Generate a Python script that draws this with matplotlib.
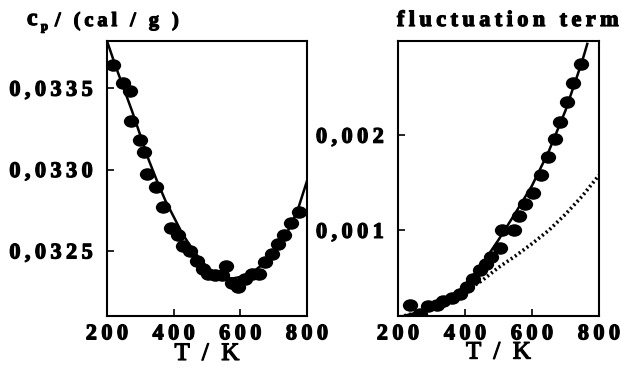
import matplotlib
matplotlib.use('Agg')
import matplotlib.pyplot as plt
import matplotlib.patheffects as pe
from matplotlib.path import Path

plt.rcParams['font.family'] = ['Liberation Serif', 'DejaVu Serif']
plt.rcParams['font.weight'] = 'bold'

# left panel: heat capacity
cp_T = [219, 247, 269, 272, 299, 311, 321, 347, 369, 391, 414, 429, 449, 469, 489,
        504, 524, 545, 557, 575, 592, 614, 635, 657, 673, 694, 712, 730, 752, 777]
cp_val = [0.03364, 0.03353, 0.03348, 0.03330, 0.03318, 0.03311, 0.03297, 0.03289,
          0.03277, 0.03264, 0.03260, 0.03253, 0.03250, 0.03244, 0.03239, 0.03236,
          0.03235, 0.03235, 0.03241, 0.03230, 0.03228, 0.03233, 0.03236, 0.03236,
          0.03243, 0.03248, 0.03254, 0.03260, 0.03267, 0.03274]
cp_fit_T = [200, 225, 250, 275, 300, 325, 350, 375, 400, 425, 450, 475, 500,
            525, 550, 575, 600, 625, 650, 675, 700, 725, 750, 775, 800]
cp_fit = [0.03379, 0.03364, 0.03350, 0.03336, 0.03321, 0.03306, 0.03293, 0.03281,
          0.03271, 0.03261, 0.03253, 0.03246, 0.03240, 0.03236, 0.03234, 0.03233,
          0.03234, 0.03236, 0.03239, 0.03243, 0.03249, 0.03256, 0.03265, 0.03277,
          0.03293]

# right panel: fluctuation term
fl_T = [235, 265, 290, 315, 335, 360, 385, 405, 425, 445, 463, 477, 503, 510, 545,
        560, 580, 602, 627, 647, 668, 683, 705, 723, 747]
fl_val = [0.00022, 0.00012, 0.00021, 0.00022, 0.00026, 0.00029, 0.00033, 0.00040,
          0.00049, 0.00058, 0.00065, 0.00072, 0.00081, 0.00100, 0.00100, 0.00115,
          0.00128, 0.00139, 0.00158, 0.00177, 0.00196, 0.00214, 0.00235, 0.00255,
          0.00275]
fl_fit_T = [205, 250, 300, 350, 400, 450, 500, 550, 600, 650, 700, 750, 765]
fl_fit = [0.00009, 0.00013, 0.00018, 0.00027, 0.00042, 0.00064, 0.00090, 0.00118,
          0.00147, 0.00183, 0.00226, 0.00278, 0.00296]
fl_dot_T = [205, 250, 300, 350, 400, 450, 500, 550, 600, 650, 700, 750, 800]
fl_dot = [0.00009, 0.00013, 0.00018, 0.00026, 0.00036, 0.00047, 0.00061, 0.00073,
          0.00086, 0.00100, 0.00117, 0.00136, 0.00158]

x_ticks = [200, 400, 600, 800]
cp_ticks = [0.0325, 0.0330, 0.0335]
cp_labels = ['0,0325', '0,0330', '0,0335']
fl_ticks = [0.001, 0.002]
fl_labels = ['0,001', '0,002']


def spaced(s):
    return '\u2009'.join(s)


heavy = [pe.withStroke(linewidth=0.9, foreground='black')]

circ = Path.unit_circle()
blob = Path(circ.vertices * [1, 0.8], circ.codes)

fig = plt.figure(figsize=(6.21, 3.67), dpi=100)
ax1 = fig.add_axes([107 / 621, 51 / 367, 200 / 621, 275 / 367])
ax2 = fig.add_axes([398 / 621, 51 / 367, 201 / 621, 275 / 367])

ax1.plot(cp_fit_T, cp_fit, color='black', lw=1.8)
ax1.plot(cp_T, cp_val, ls='none', marker=blob, ms=10, color='black')
ax1.set_xlim(200, 800)
ax1.set_ylim(0.03210, 0.03379)
ax1.set_yticks(cp_ticks)
ax1.set_yticklabels([spaced(s) for s in cp_labels])

ax2.plot(fl_dot_T, fl_dot, color='black', lw=2.6, ls=(0, (0.55, 0.8)))
ax2.plot(fl_fit_T, fl_fit, color='black', lw=1.8)
ax2.plot(fl_T, fl_val, ls='none', marker=blob, ms=10, color='black')
ax2.set_xlim(200, 800)
ax2.set_ylim(0.0001, 0.00299)
ax2.set_yticks(fl_ticks)
ax2.set_yticklabels([spaced(s) for s in fl_labels])

for ax in (ax1, ax2):
    ax.set_xticks(x_ticks)
    ax.set_xticklabels([spaced(str(t)) for t in x_ticks])
    ax.tick_params(direction='in', length=5, width=1.2, labelsize=16, pad=6)
    ax.tick_params(axis='y', pad=10)
    for sp in ax.spines.values():
        sp.set_linewidth(1.5)
    for lab in ax.get_xticklabels() + ax.get_yticklabels():
        lab.set_path_effects(heavy)

ax1.set_xlabel('T  /  K', fontsize=18, labelpad=-1, path_effects=heavy)
ax2.set_xlabel('T  /  K', fontsize=18, labelpad=-2, path_effects=heavy)

fig.text(27 / 621, 1 - 25 / 367, 'c', fontsize=17, va='baseline', path_effects=heavy)
fig.text(41 / 621, 1 - 30 / 367, 'p', fontsize=9, va='baseline', path_effects=heavy)
fig.text(55 / 621, 1 - 26 / 367, spaced('/ (cal / g )'), fontsize=14.5, va='baseline',
         path_effects=heavy)
fig.text(397 / 621, 1 - 26 / 367, spaced('fluctuation term'), fontsize=16,
         va='baseline', path_effects=heavy)

fig.savefig('out.png', dpi=100)
